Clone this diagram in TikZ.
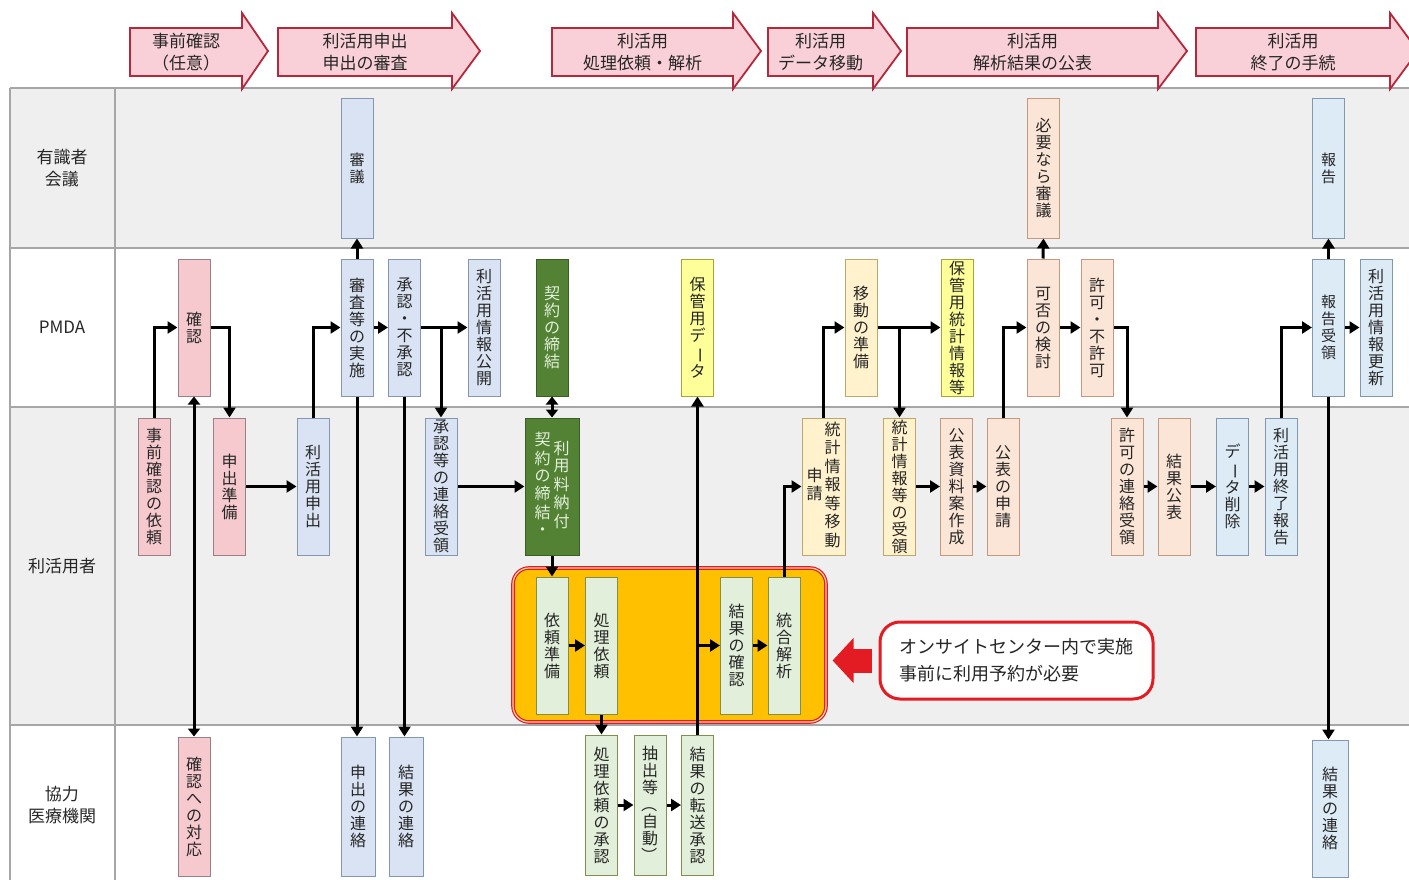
\documentclass[tikz,border=0pt]{standalone}
\usepackage{fontspec}
\setmainfont{Noto Sans CJK JP}
\usepackage{graphicx}
\usetikzlibrary{arrows.meta}
\definecolor{ink}{HTML}{262626}
\definecolor{lanegray}{HTML}{EFEFEF}
\definecolor{laneline}{HTML}{A6A6A6}
\definecolor{phasefill}{HTML}{F9D0D7}
\definecolor{phaseline}{HTML}{B4283C}
\definecolor{pinkfill}{HTML}{F6C9CE}
\definecolor{pinkline}{HTML}{9A7F84}
\definecolor{bluefill}{HTML}{DAE3F3}
\definecolor{blueline}{HTML}{8497B0}
\definecolor{skyfill}{HTML}{DDEBF7}
\definecolor{skyline}{HTML}{8497B0}
\definecolor{peachfill}{HTML}{FBE5D6}
\definecolor{peachline}{HTML}{C39A80}
\definecolor{creamfill}{HTML}{FFF2CC}
\definecolor{creamline}{HTML}{BFA66A}
\definecolor{yellowfill}{HTML}{FFFF99}
\definecolor{yellowline}{HTML}{A5A53A}
\definecolor{leaffill}{HTML}{E2EFDA}
\definecolor{leafline}{HTML}{7F8F50}
\definecolor{forest}{HTML}{548235}
\definecolor{forestline}{HTML}{3B5E25}
\definecolor{forestink}{HTML}{E2EFDA}
\definecolor{onsite}{HTML}{FFC000}
\definecolor{alertred}{HTML}{E31B23}

\newcommand{\taskfont}{\fontsize{16}{17}\selectfont}
\newcommand{\smalltaskfont}{\fontsize{15}{17}\selectfont}
\newcommand{\vbar}{\rotatebox[origin=c]{-90}{ー}}
\newcommand{\vparl}{\rotatebox[origin=c]{-90}{（}}
\newcommand{\vparr}{\rotatebox[origin=c]{-90}{）}}
\newcommand{\vcol}[1]{\begin{tabular}[c]{@{}c@{}}#1\end{tabular}}

\begin{document}
\begin{tikzpicture}[x=1pt, y=-1pt]
\tikzstyle{task} = [draw, line width=1pt, minimum width=32pt, minimum height=137pt, inner sep=0pt, align=center, font=\taskfont, text=ink]
\tikzstyle{pinktask} = [task, fill=pinkfill, draw=pinkline]
\tikzstyle{bluetask} = [task, fill=bluefill, draw=blueline]
\tikzstyle{skytask} = [task, fill=skyfill, draw=skyline]
\tikzstyle{peachtask} = [task, fill=peachfill, draw=peachline]
\tikzstyle{creamtask} = [task, fill=creamfill, draw=creamline]
\tikzstyle{yellowtask} = [task, fill=yellowfill, draw=yellowline]
\tikzstyle{leaftask} = [task, fill=leaffill, draw=leafline]
\tikzstyle{foresttask} = [task, fill=forest, draw=forestline, text=forestink]
\tikzstyle{lanetext} = [align=center, font=\fontsize{17}{22}\selectfont, text=ink]
\tikzstyle{phase} = [fill=phasefill, draw=phaseline, line width=1.8pt, line join=miter]
\tikzstyle{phasetext} = [align=center, font=\fontsize{17}{22}\selectfont, text=ink]
\tikzstyle{flow} = [line width=3pt, -{Triangle[length=10pt, width=12pt]}]
\tikzstyle{flowboth} = [line width=3pt, {Triangle[length=8pt, width=12pt]}-{Triangle[length=8pt, width=12pt]}]

\useasboundingbox (0,0) rectangle (1409,880);

% swimlanes
\fill[lanegray] (10,88) rectangle (1409,248);
\fill[lanegray] (10,407) rectangle (1409,725);
\foreach \y in {88,248,407,725} {
    \draw[laneline, line width=1.5pt] (10,\y) -- (1409,\y);
}
\draw[laneline, line width=1.5pt] (10,88) -- (10,880);
\draw[laneline, line width=1.5pt] (115,88) -- (115,880);

\node (lane1) [lanetext] at (62,168) {有識者\\会議};
\node (lane2) [lanetext] at (62,327) {PMDA};
\node (lane3) [lanetext] at (62,566) {利活用者};
\node (lane4) [lanetext] at (62,805) {協力\\医療機関};

% phases
\foreach \xa/\xb/\xt/\txt [count=\i] in {130/242/268/{事前確認\\（任意）}, 278/452/480/{利活用申出\\申出の審査}, 552/733/761/{利活用\\処理依頼・解析}, 768/873/901/{利活用\\データ移動}, 907/1158/1187/{利活用\\解析結果の公表}, 1196/1390/1418/{利活用\\終了の手続}} {
    \draw[phase] (\xa,28) -- (\xb,28) -- (\xb,13) -- (\xt,51) -- (\xb,89) -- (\xb,76) -- (\xa,76) -- cycle;
    \node (phase\i) [phasetext] at ({(\xa+\xb)/2},52) {\txt};
}

% onsite area
\node (onsite) [fill=onsite, draw=alertred, line width=1.2pt, double=orange!35!white, double distance=1.2pt, rounded corners=16pt, minimum width=313pt, minimum height=154pt] at (669.5,645) {};

% 有識者会議
\node (shingi) [bluetask, minimum height=139pt, font=\smalltaskfont] at (357,168.5) {審\\議};
\node (hitsuyo) [peachtask, minimum height=139pt] at (1043.5,168.5) {必\\要\\な\\ら\\審\\議};
\node (hokoku) [skytask, minimum height=139pt, font=\smalltaskfont] at (1328.5,168.5) {報\\告};

% PMDA
\node (kakunin) [pinktask] at (194,327.5) {確\\認};
\node (shinsa) [bluetask] at (357,327.5) {審\\査\\等\\の\\実\\施};
\node (shonin) [bluetask] at (404.5,327.5) {承\\認\\・\\不\\承\\認};
\node (kokai) [bluetask] at (484,327.5) {利\\活\\用\\情\\報\\公\\開};
\node (keiyaku) [foresttask] at (552,327.5) {契\\約\\の\\締\\結};
\node (hokandata) [yellowtask] at (697.5,327.5) {保\\管\\用\\デ\\\vbar\\タ};
\node (idojunbi) [creamtask] at (861,327.5) {移\\動\\の\\準\\備};
\node (hokantokei) [yellowtask] at (957,327.5) {保\\管\\用\\統\\計\\情\\報\\等};
\node (kahi) [peachtask] at (1043,327.5) {可\\否\\の\\検\\討};
\node (kyoka) [peachtask] at (1097,327.5) {許\\可\\・\\不\\許\\可};
\node (hokokujuryo) [skytask, font=\smalltaskfont] at (1328.5,327.5) {報\\告\\受\\領};
\node (koshin) [skytask] at (1376,327.5) {利\\活\\用\\情\\報\\更\\新};

% 利活用者
\node (irai) [pinktask] at (154,486.5) {事\\前\\確\\認\\の\\依\\頼};
\node (moshidejunbi) [pinktask] at (229.5,486.5) {申\\出\\準\\備};
\node (moshide) [bluetask] at (313,486.5) {利\\活\\用\\申\\出};
\node (renraku) [bluetask] at (441,486.5) {承\\認\\等\\の\\連\\絡\\受\\領};
\node (nofu) [foresttask, minimum width=54pt] at (552,486.5) {\vcol{契\\約\\の\\締\\結\\・}\hspace{3pt}\vcol{利\\用\\料\\納\\付}};
\node (idoshinsei) [creamtask, minimum width=43pt] at (823.5,486.5) {\vcol{申\\請}\hspace{2pt}\vcol{統\\計\\情\\報\\等\\移\\動}};
\node (juryo) [creamtask] at (899.5,486.5) {統\\計\\情\\報\\等\\の\\受\\領};
\node (shiryo) [peachtask] at (956.5,486.5) {公\\表\\資\\料\\案\\作\\成};
\node (kohyoshinsei) [peachtask] at (1003,486.5) {公\\表\\の\\申\\請};
\node (kyokarenraku) [peachtask] at (1127,486.5) {許\\可\\の\\連\\絡\\受\\領};
\node (kekkakohyo) [peachtask] at (1174,486.5) {結\\果\\公\\表};
\node (sakujo) [skytask] at (1232.5,486.5) {デ\\\vbar\\タ\\削\\除};
\node (shuryo) [skytask] at (1281,486.5) {利\\活\\用\\終\\了\\報\\告};

\node (iraijunbi) [leaftask] at (552,645.5) {依\\頼\\準\\備};
\node (shoriirai) [leaftask] at (601.5,645.5) {処\\理\\依\\頼};
\node (kekkakakunin) [leaftask] at (736.5,645.5) {結\\果\\の\\確\\認};
\node (togo) [leaftask] at (784,645.5) {統\\合\\解\\析};

% 協力医療機関
\node (taiou) [pinktask, minimum height=139pt] at (194,806.5) {確\\認\\へ\\の\\対\\応};
\node (moshiderenraku) [bluetask, minimum width=34pt, minimum height=139pt] at (358,806.5) {申\\出\\の\\連\\絡};
\node (kekkarenraku) [bluetask, minimum width=34pt, minimum height=139pt] at (406,806.5) {結\\果\\の\\連\\絡};
\node (shonin2) [leaftask, minimum height=140pt] at (601.5,805) {処\\理\\依\\頼\\の\\承\\認};
\node (chushutsu) [leaftask, minimum height=140pt] at (650,805) {抽\\出\\等\\\vparl\\自\\動\\\vparr};
\node (tenso) [leaftask, minimum height=140pt] at (697.5,805) {結\\果\\の\\転\\送\\承\\認};
\node (kekkarenraku2) [skytask, minimum width=36pt] at (1330,808.5) {結\\果\\の\\連\\絡};

% callout
\node (note) [draw=alertred, line width=3pt, fill=white, rounded corners=20pt, minimum width=273pt, minimum height=77pt, align=left, font=\fontsize{18}{27}\selectfont, text=ink] at (1016.5,660.5) {オンサイトセンター内で実施\\事前に利用予約が必要};
\draw[alertred, line width=24pt, -{Triangle[length=21pt, width=44pt]}, shorten <=7pt, shorten >=6pt] (note.west) -- (note.west -| onsite.east);

% Draw arrows
\draw[flow] (irai.north) |- (kakunin.west);
\draw[flow] (kakunin.east) -| (moshidejunbi.north);
\draw[flowboth] (kakunin.south) -- (taiou.north);
\draw[flow] (moshidejunbi.east) -- (moshide.west);
\draw[flow] (moshide.north) |- (shinsa.west);
\draw[flow] (shinsa.north) -- (shingi.south);
\draw[flow] (shinsa.east) -- (shonin.west);
\draw[flow] (shinsa.south) -- (shinsa.south |- moshiderenraku.north);
\draw[flow] (shonin.south) -- (shonin.south |- kekkarenraku.north);
\draw[flow] (shonin.east) -- (kokai.west);
\draw[flow] (shonin.east -| renraku.north) -- (renraku.north);
\draw[flow] (renraku.east) -- (nofu.west);
\draw[flowboth] (keiyaku.south) -- (nofu.north);
\draw[flow] (nofu.south) -- (iraijunbi.north);
\draw[flow] (iraijunbi.east) -- (shoriirai.west);
\draw[flow] (shoriirai.south) -- (shonin2.north);
\draw[flow] (shonin2.east) -- (chushutsu.west);
\draw[flow] (chushutsu.east) -- (tenso.west);
\draw[flow] (tenso.north) -- (hokandata.south);
\draw[flow] (tenso.north |- kekkakakunin.west) -- (kekkakakunin.west);
\draw[flow] (kekkakakunin.east) -- (togo.west);
\draw[flow] (togo.north) |- (idoshinsei.west);
\draw[flow] (idoshinsei.north) |- (idojunbi.west);
\draw[flow] (idojunbi.east) -- (hokantokei.west);
\draw[flow] (idojunbi.east -| juryo.north) -- (juryo.north);
\draw[flow] (juryo.east) -- (shiryo.west);
\draw[flow] (shiryo.east) -- (kohyoshinsei.west);
\draw[flow] (kohyoshinsei.north) |- (kahi.west);
\draw[flow] (kahi.north) -- (hitsuyo.south);
\draw[flow] (kahi.east) -- (kyoka.west);
\draw[flow] (kyoka.east) -| (kyokarenraku.north);
\draw[flow] (kyokarenraku.east) -- (kekkakohyo.west);
\draw[flow] (kekkakohyo.east) -- (sakujo.west);
\draw[flow] (sakujo.east) -- (shuryo.west);
\draw[flow] (shuryo.north) |- (hokokujuryo.west);
\draw[flow] (hokokujuryo.north) -- (hokoku.south);
\draw[flow] (hokokujuryo.east) -- (koshin.west);
\draw[flow] (hokokujuryo.south) -- (hokokujuryo.south |- kekkarenraku2.north);

\end{tikzpicture}
\end{document}
